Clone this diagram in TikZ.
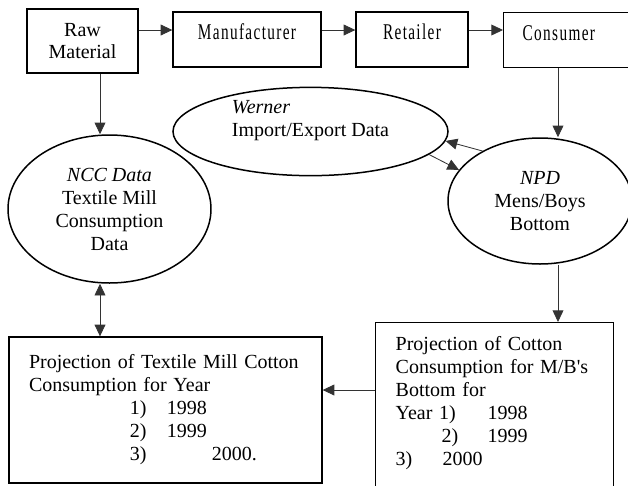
\documentclass[tikz,border=0pt]{standalone}
\usepackage{fontspec}
\setmainfont{Liberation Serif}
\newfontfamily\spreadfont[FakeStretch=0.68,LetterSpace=6]{Liberation Serif}
\usetikzlibrary{arrows.meta, positioning, shapes.geometric}

\begin{document}
\begin{tikzpicture}[
  x=0.6pt, y=-0.6pt,
  >={Triangle[length=7pt,width=6.5pt]},
  font=\fontsize{12pt}{13.8pt}\selectfont,
  % Node styles
  chainbox/.style={draw, line width=0.8pt, minimum height=33pt, inner sep=0pt},
  stage/.style={chainbox, font=\fontsize{13.5pt}{15pt}\spreadfont, text height=5.5pt, text depth=5.5pt},
  source/.style={ellipse, draw, line width=0.9pt, inner sep=0pt},
  projbox/.style={draw, line width=0.8pt, align=left, inner xsep=12pt},
  % Edge styles
  flow/.style={->, line width=0.5pt, draw=black!80},
  both/.style={<->, line width=0.5pt, draw=black!80}
]

\useasboundingbox (0,0) rectangle (628,485);
\clip (0,0) rectangle (628,485);

% ------------------------------------------------------------
% Supply chain row
% ------------------------------------------------------------
\node[chainbox, minimum width=66.6pt, minimum height=38.4pt, align=center,
      font=\fontsize{12pt}{13.2pt}\selectfont] (raw) at (82.5,41) {Raw\\Material};
\node[stage, minimum width=88.8pt] (manu)   at (247,39.5) {Manufacturer};
\node[stage, minimum width=67.2pt] (retail) at (412,39.5) {Retailer};
% right side runs off the page
\node[stage, anchor=north west, minimum width=120pt, text width=97.2pt,
      inner xsep=11.4pt, align=left] (cons) at (503,12) {Consumer};

% ------------------------------------------------------------
% Data sources
% ------------------------------------------------------------
\node[source, minimum width=165pt, minimum height=48.6pt, align=left]
  (werner) at (310.5,131.5) {\textit{Werner}\\Import/Export Data\\[2pt]};
\node[source, minimum width=121.8pt, minimum height=88.8pt, align=center]
  (ncc) at (109.5,209) {\textit{NCC Data}\\Textile Mill\\Consumption\\Data};
\node[source, minimum width=110.4pt, minimum height=75.6pt, align=center]
  (npd) at (540,201) {\textit{NPD}\\Mens/Boys\\Bottom};

% ------------------------------------------------------------
% Projections
% ------------------------------------------------------------
\node[projbox, minimum width=187.8pt, minimum height=87.6pt, text width=163.8pt]
  (projT) at (165.5,410) {Projection of Textile Mill Cotton\\Consumption for Year\\
  \hspace*{60.6pt}\makebox[22.2pt][l]{1)}1998\\
  \hspace*{60.6pt}\makebox[22.2pt][l]{2)}1999\\
  \hspace*{60.6pt}\makebox[49.2pt][l]{3)}2000.};
% bottom edge runs off the page
\node[projbox, anchor=north west, text width=118.8pt, inner ysep=8.4pt]
  (projC) at (375,322) {Projection of Cotton\\Consumption for M/B\textquotesingle s\\Bottom for\\
  \makebox[55.2pt][l]{Year 1)}1998\\
  \hspace*{27.6pt}\makebox[27.6pt][l]{2)}1999\\
  \makebox[28.2pt][l]{3)}2000\\ \strut\\ \strut};

% ------------------------------------------------------------
% Connectors
% ------------------------------------------------------------
\coordinate (chain)    at (0,30);
\coordinate (leftcol)  at (100,0);
\coordinate (rightcol) at (558,0);
\coordinate (midrow)   at (0,390);

\draw[flow] (raw.east |- chain)    -- (manu.west |- chain);
\draw[flow] (manu.east |- chain)   -- (retail.west |- chain);
\draw[flow] (retail.east |- chain) -- (cons.west |- chain);

\draw[flow] (raw.south -| leftcol)  -- (ncc.north -| leftcol);
\draw[both] (ncc.south -| leftcol)  -- (projT.north -| leftcol);
\draw[flow] (cons.south -| rightcol) -- (npd.north -| rightcol);
\draw[flow] (npd.south -| rightcol)  -- (projC.north -| rightcol);
\draw[flow] (projC.west |- midrow)   -- (projT.east |- midrow);

% Werner <-> NPD
\draw[flow] (npd.139)    -- (werner.-4);
\draw[flow] (werner.-11) -- (npd.159);

\end{tikzpicture}
\end{document}
